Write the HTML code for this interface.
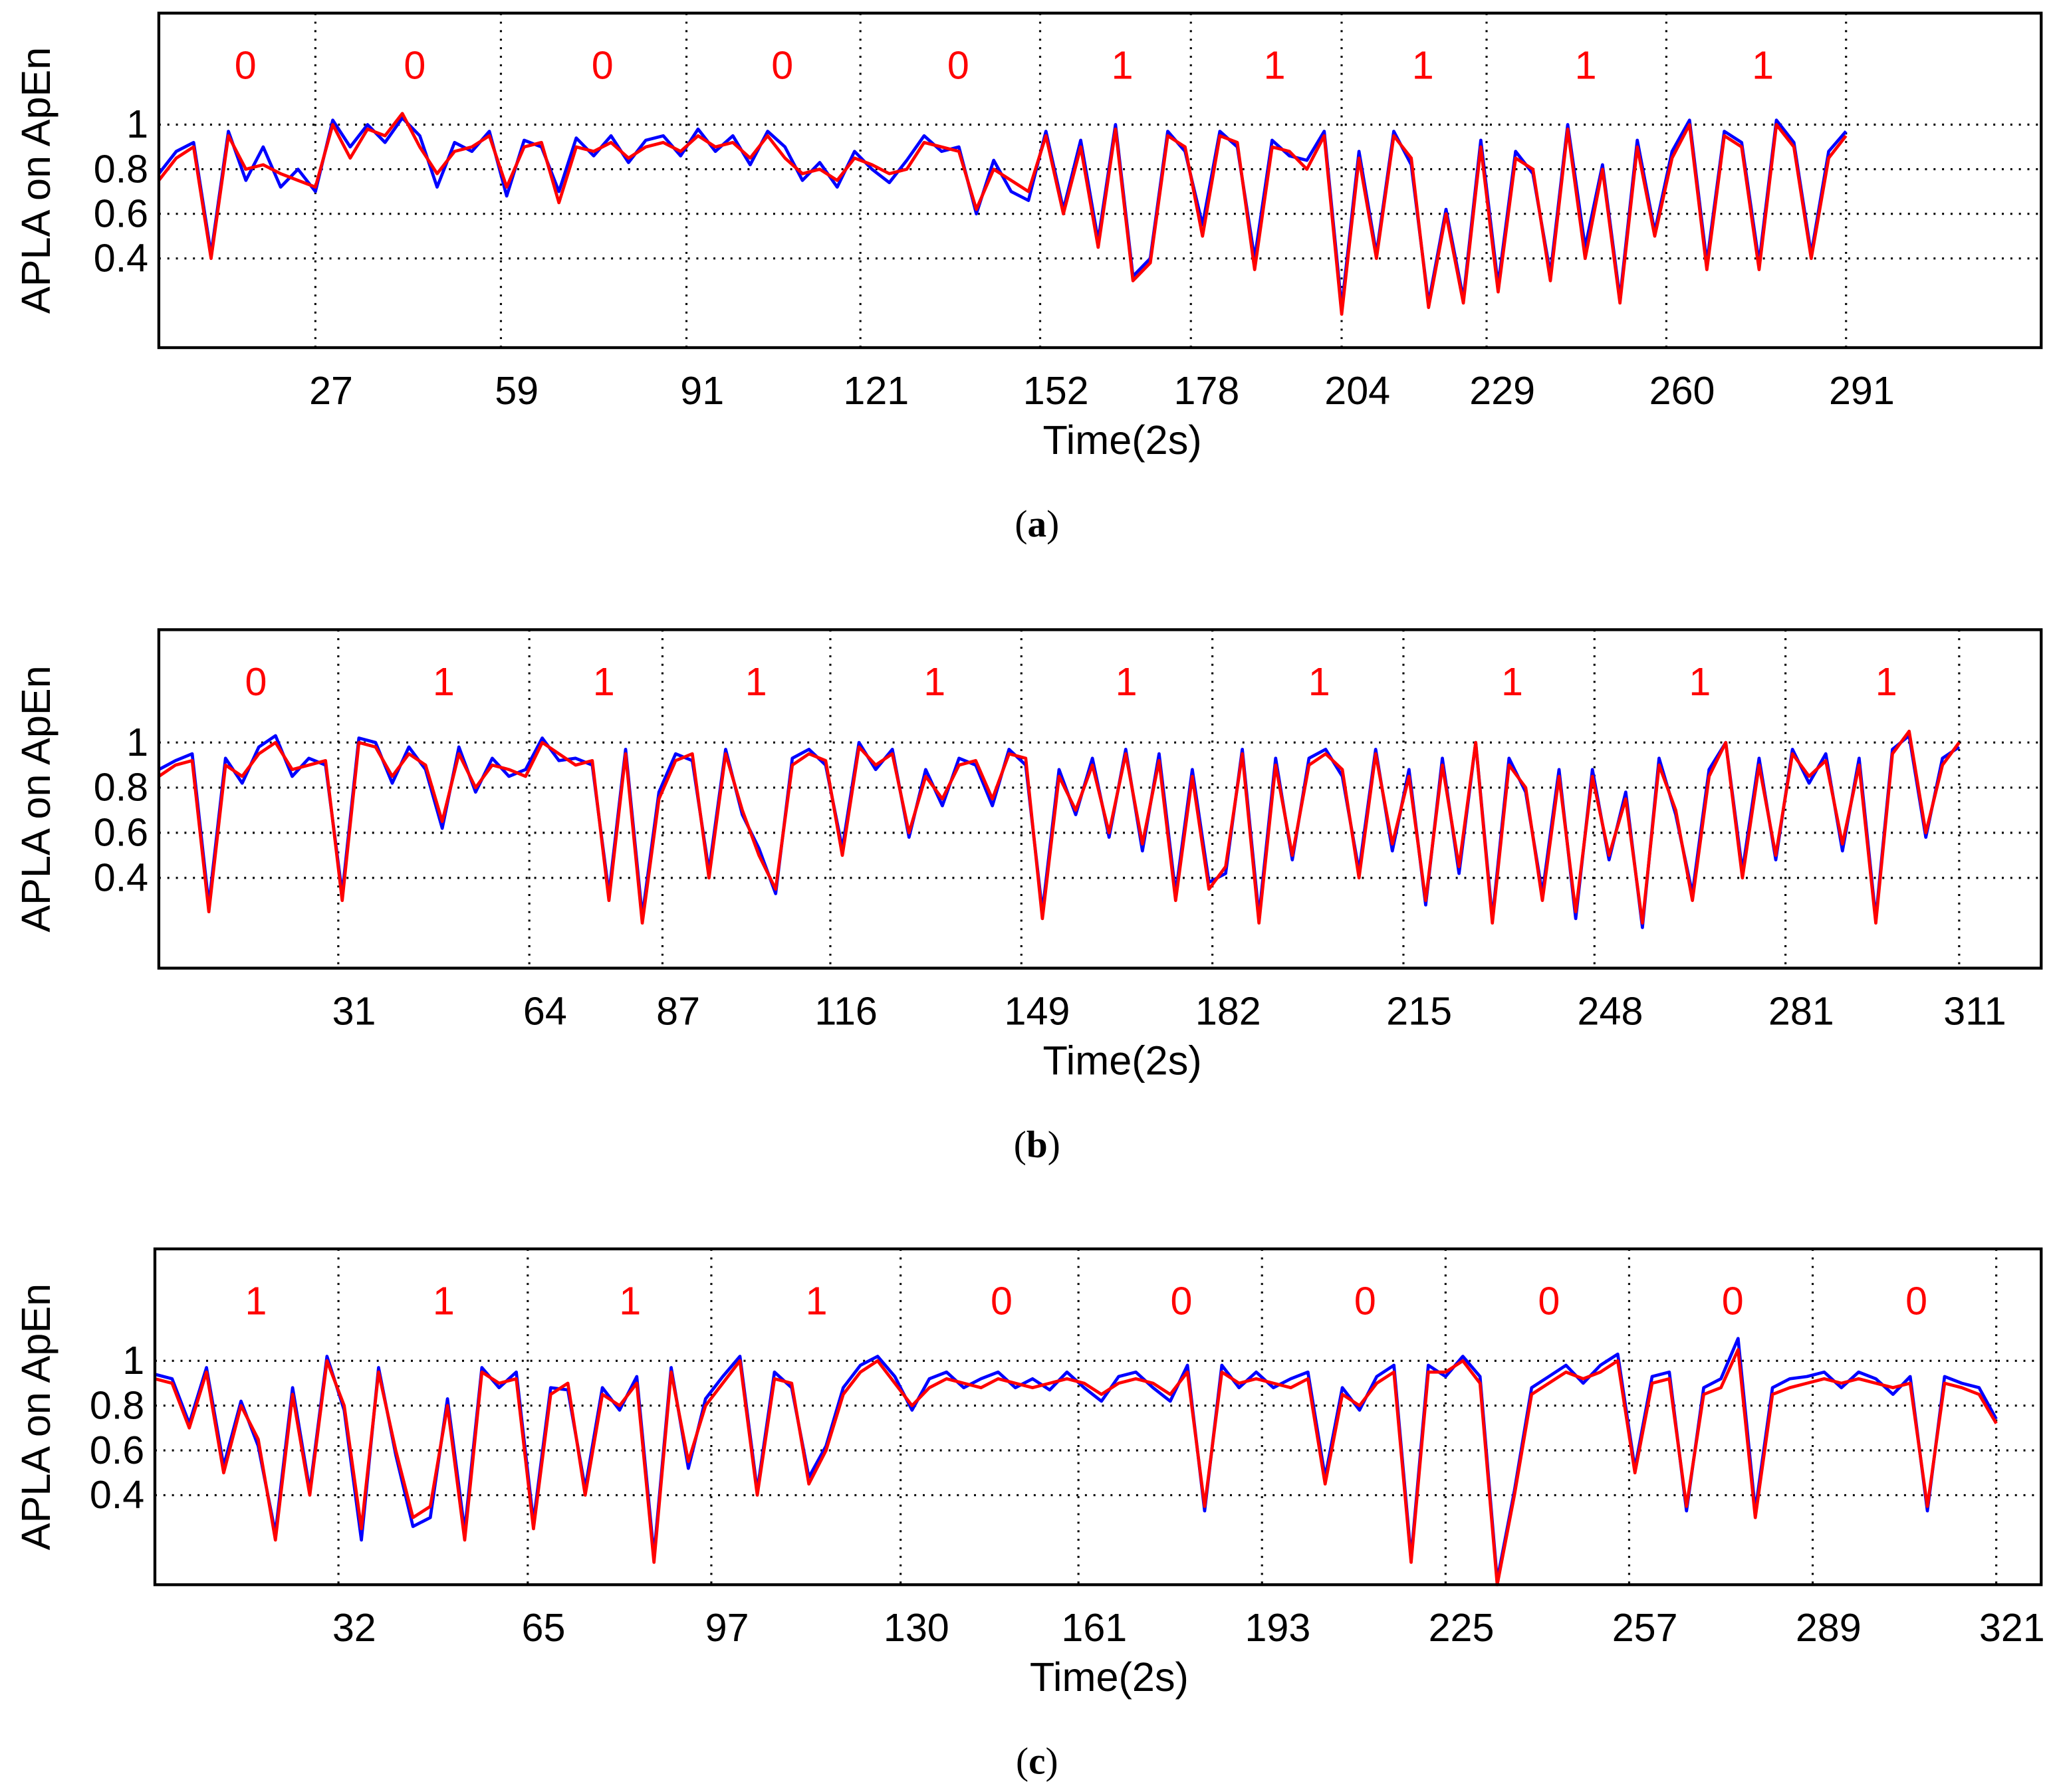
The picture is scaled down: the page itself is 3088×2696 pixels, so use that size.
<!DOCTYPE html>
<html><head><meta charset="utf-8"><style>
html,body{margin:0;padding:0;background:#fff}
svg{display:block}
text{font-family:"Liberation Sans",sans-serif}
</style></head><body>
<svg id="chart" xmlns="http://www.w3.org/2000/svg" width="3088" height="2696" viewBox="0 0 1564 1366" preserveAspectRatio="none"></svg>
<script>
// ---------- data ----------
const ticksA=[27,59,91,121,152,178,204,229,260,291];
const ticksB=[31,64,87,116,149,182,215,248,281,311];
const ticksC=[32,65,97,130,161,193,225,257,289,321];
const yTicks=[0.4,0.6,0.8,1];
const yTickLabels=["0.4","0.6","0.8","1"];
const classA=["0","0","0","0","0","1","1","1","1","1"];
const classB=["0","1","1","1","1","1","1","1","1","1"];
const classC=["1","1","1","1","0","0","0","0","0","0"];
const tMaxA=291, tMaxB=311, tMaxC=321;
const redA=[0.75,0.85,0.9,0.4,0.95,0.8,0.82,0.78,0.75,0.72,1.0,0.85,0.98,0.95,1.05,0.9,0.78,0.88,0.9,0.95,0.72,0.9,0.92,0.65,0.9,0.88,0.92,0.85,0.9,0.92,0.88,0.95,0.9,0.92,0.85,0.95,0.85,0.78,0.8,0.75,0.85,0.82,0.78,0.8,0.92,0.9,0.88,0.62,0.8,0.75,0.7,0.95,0.6,0.9,0.45,0.98,0.3,0.38,0.95,0.9,0.5,0.95,0.92,0.35,0.9,0.88,0.8,0.95,0.15,0.85,0.4,0.95,0.85,0.18,0.6,0.2,0.9,0.25,0.85,0.8,0.3,0.98,0.4,0.8,0.2,0.9,0.5,0.85,1.0,0.35,0.95,0.9,0.35,1.0,0.9,0.4,0.85,0.95];
const blueA=[0.78,0.88,0.92,0.42,0.97,0.75,0.9,0.72,0.8,0.7,1.02,0.9,1.0,0.92,1.03,0.95,0.72,0.92,0.88,0.97,0.68,0.93,0.9,0.7,0.94,0.86,0.95,0.83,0.93,0.95,0.86,0.98,0.88,0.95,0.82,0.97,0.9,0.75,0.83,0.72,0.88,0.8,0.74,0.84,0.95,0.88,0.9,0.6,0.84,0.7,0.66,0.97,0.62,0.93,0.48,1.0,0.32,0.4,0.97,0.88,0.55,0.97,0.9,0.4,0.93,0.86,0.84,0.97,0.18,0.88,0.42,0.97,0.82,0.2,0.62,0.22,0.93,0.28,0.88,0.78,0.33,1.0,0.45,0.82,0.22,0.93,0.52,0.88,1.02,0.38,0.97,0.92,0.38,1.02,0.92,0.42,0.88,0.97];
const redB=[0.85,0.9,0.92,0.25,0.9,0.85,0.95,1.0,0.88,0.9,0.92,0.3,1.0,0.98,0.85,0.95,0.9,0.65,0.95,0.8,0.9,0.88,0.85,1.0,0.95,0.9,0.92,0.3,0.95,0.2,0.75,0.92,0.95,0.4,0.95,0.7,0.5,0.35,0.9,0.95,0.92,0.5,0.98,0.9,0.95,0.6,0.85,0.75,0.9,0.92,0.75,0.95,0.93,0.22,0.85,0.7,0.9,0.6,0.95,0.55,0.92,0.3,0.85,0.35,0.45,0.95,0.2,0.9,0.5,0.9,0.95,0.88,0.4,0.95,0.55,0.85,0.3,0.9,0.45,1.0,0.2,0.9,0.8,0.3,0.85,0.25,0.85,0.5,0.75,0.2,0.9,0.7,0.3,0.85,1.0,0.4,0.9,0.5,0.95,0.85,0.92,0.55,0.9,0.2,0.95,1.05,0.6,0.9,1.0];
const blueB=[0.88,0.92,0.95,0.28,0.93,0.82,0.98,1.03,0.85,0.93,0.9,0.33,1.02,1.0,0.82,0.98,0.88,0.62,0.98,0.78,0.93,0.85,0.88,1.02,0.92,0.93,0.9,0.33,0.97,0.23,0.78,0.95,0.92,0.43,0.97,0.68,0.53,0.33,0.93,0.97,0.9,0.53,1.0,0.88,0.97,0.58,0.88,0.72,0.93,0.9,0.72,0.97,0.9,0.25,0.88,0.68,0.93,0.58,0.97,0.52,0.95,0.33,0.88,0.38,0.42,0.97,0.23,0.93,0.48,0.93,0.97,0.85,0.43,0.97,0.52,0.88,0.28,0.93,0.42,1.0,0.22,0.93,0.78,0.33,0.88,0.22,0.88,0.48,0.78,0.18,0.93,0.68,0.33,0.88,1.0,0.43,0.93,0.48,0.97,0.82,0.95,0.52,0.93,0.22,0.97,1.03,0.58,0.93,0.98];
const redC=[0.92,0.9,0.7,0.95,0.5,0.8,0.65,0.2,0.85,0.4,1.0,0.8,0.25,0.95,0.6,0.3,0.35,0.8,0.2,0.95,0.9,0.92,0.25,0.85,0.9,0.4,0.85,0.8,0.9,0.1,0.95,0.55,0.8,0.9,1.0,0.4,0.92,0.9,0.45,0.6,0.85,0.95,1.0,0.9,0.8,0.88,0.92,0.9,0.88,0.92,0.9,0.88,0.9,0.92,0.9,0.85,0.9,0.92,0.9,0.85,0.95,0.35,0.95,0.9,0.92,0.9,0.88,0.92,0.45,0.85,0.8,0.9,0.95,0.1,0.95,0.95,1.0,0.9,0.0,0.4,0.85,0.9,0.95,0.92,0.95,1.0,0.5,0.9,0.92,0.35,0.85,0.88,1.05,0.3,0.85,0.88,0.9,0.92,0.9,0.92,0.9,0.88,0.9,0.35,0.9,0.88,0.85,0.72];
const blueC=[0.94,0.92,0.72,0.97,0.53,0.82,0.62,0.23,0.88,0.42,1.02,0.78,0.2,0.97,0.58,0.26,0.3,0.83,0.24,0.97,0.88,0.95,0.28,0.88,0.87,0.43,0.88,0.78,0.93,0.13,0.97,0.52,0.83,0.93,1.02,0.42,0.95,0.88,0.48,0.62,0.88,0.98,1.02,0.93,0.78,0.92,0.95,0.88,0.92,0.95,0.88,0.92,0.87,0.95,0.88,0.82,0.93,0.95,0.88,0.82,0.98,0.33,0.98,0.88,0.95,0.88,0.92,0.95,0.48,0.88,0.78,0.93,0.98,0.12,0.98,0.93,1.02,0.93,0.02,0.42,0.88,0.93,0.98,0.9,0.98,1.03,0.52,0.93,0.95,0.33,0.88,0.92,1.1,0.33,0.88,0.92,0.93,0.95,0.88,0.95,0.92,0.85,0.93,0.33,0.93,0.9,0.88,0.74];

const NS="http://www.w3.org/2000/svg";
const svg=document.getElementById('chart');
function mk(tag,attrs,parent){const e=document.createElementNS(NS,tag);for(const k in attrs)e.setAttribute(k,attrs[k]);(parent||svg).appendChild(e);return e;}

function panel(cfg){
  const g=mk('g',{});
  
  
  const {x0,x1,y0,y1}=cfg;
  const xs=t=>x0+t*cfg.pxPerT;
  const ys=v=>y1-(v/1.5)*(y1-y0);
  yTicks.forEach((v,i)=>{
    const l=mk('line',{x1:x0,x2:x1,y1:ys(v),y2:ys(v),stroke:'#000','stroke-width':1.6,'stroke-dasharray':'1.5 5'},g);
    
    
    const tx=mk('text',{x:x0-8,y:ys(v)+10,'text-anchor':'end','font-size':30},g);
    tx.textContent=yTickLabels[i];
    
    
  });
  cfg.ticks.forEach(t=>{
    const X=xs(t);
    const l=mk('line',{x1:X,x2:X,y1:y0,y2:y1,stroke:'#000','stroke-width':1.6,'stroke-dasharray':'1.5 5'},g);
    
    
    const tx=mk('text',{x:X+12,y:y1+43,'text-anchor':'middle','font-size':30},g);
    tx.textContent=String(t);
    
    
  });
  cfg.cls.forEach((c,i)=>{
    const tx=mk('text',{x:cfg.clsX[i],y:y0+50,'text-anchor':'middle','font-size':30,fill:'#f00'},g);
    tx.textContent=c;
    
    
  });
  function line(arr,color,name){
    const step=cfg.tMax/(arr.length-1);
    const pts=arr.map((v,i)=>xs(i*step).toFixed(1)+','+ys(v).toFixed(1)).join(' ');
    const p=mk('polyline',{points:pts,fill:'none',stroke:color,'stroke-width':2.4,'stroke-linejoin':'round'},g);
    
    
  }
  line(cfg.blue,'#0000ff','apen-series');
  line(cfg.red,'#ff0000','apla-series');
  const r=mk('rect',{x:x0,y:y0,width:x1-x0,height:y1-y0,fill:'none',stroke:'#000','stroke-width':2.2},g);
  
  
  const yt=mk('text',{x:0,y:0,'text-anchor':'middle','font-size':31,transform:`translate(38,${(y0+y1)/2}) rotate(-90)`},g);
  yt.textContent='APLA on ApEn';
  
  
  const xt=mk('text',{x:cfg.xtX,y:y1+81,'text-anchor':'middle','font-size':31},g);
  xt.textContent='Time(2s)';
  
  
  const cap=mk('text',{x:790,y:y1+144,'text-anchor':'middle','font-size':29,style:'font-family:"Liberation Serif",serif'},g);
  cap.innerHTML='(<tspan font-weight="bold">'+cfg.cap+'</tspan>)';
  
  
}
panel({name:'panel-a',x0:121,x1:1555,y0:10,y1:265,pxPerT:4.417,ticks:ticksA,cls:classA,clsX:[187,316,459,596,730,855,971,1084,1208,1343],tMax:tMaxA,red:redA,blue:blueA,cap:'a',xtX:855});
panel({name:'panel-b',x0:121,x1:1555,y0:480,y1:738,pxPerT:4.41,ticks:ticksB,cls:classB,clsX:[195,338,460,576,712,858,1005,1152,1295,1437],tMax:tMaxB,red:redB,blue:blueB,cap:'b',xtX:855});
panel({name:'panel-c',x0:118,x1:1555,y0:952,y1:1208,pxPerT:4.37,ticks:ticksC,cls:classC,clsX:[195,338,480,622,763,900,1040,1180,1320,1460],tMax:tMaxC,red:redC,blue:blueC,cap:'c',xtX:845});
</script>
</body></html>
